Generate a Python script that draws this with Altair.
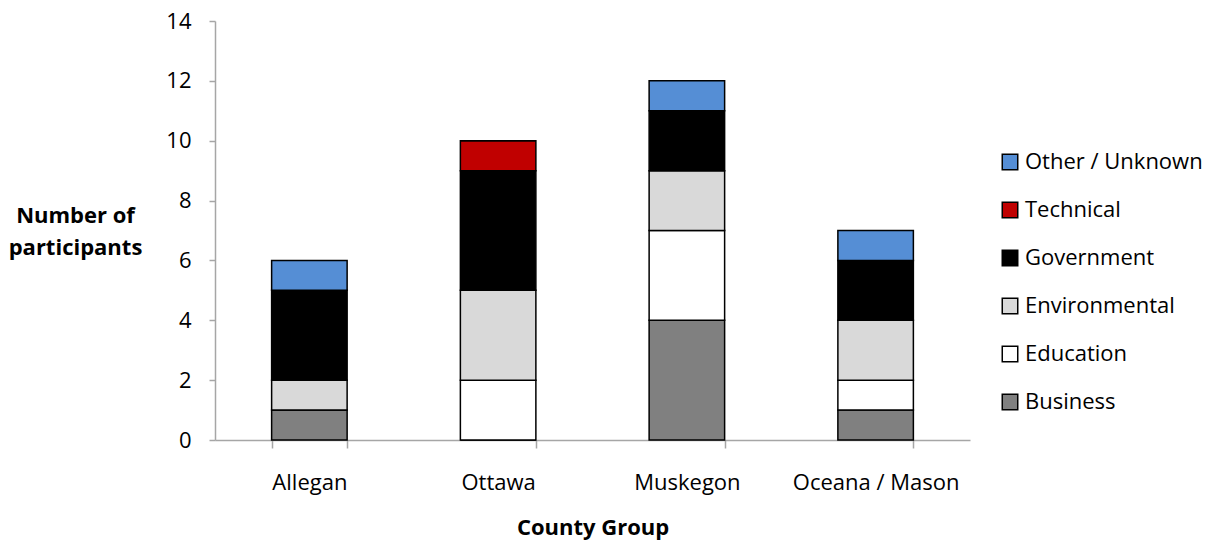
import altair as alt
import pandas as pd

counties = ["Allegan", "Ottawa", "Muskegon", "Oceana / Mason"]
categories = ["Business", "Education", "Environmental", "Government", "Technical", "Other / Unknown"]
business = [1, 0, 4, 1]
education = [0, 2, 3, 1]
environmental = [1, 3, 2, 2]
government = [3, 4, 2, 2]
technical = [0, 1, 0, 0]
other = [1, 0, 1, 1]
colors = ["#808080", "#FFFFFF", "#D9D9D9", "#000000", "#C00000", "#558ED5"]

series = [business, education, environmental, government, technical, other]
rows = []
for ci, c in enumerate(counties):
    for si, cat in enumerate(categories):
        rows.append({"County": c, "Type": cat, "Count": series[si][ci], "order": si})
df = pd.DataFrame(rows)

FONT = "Open Sans"
FS = 22

chart = alt.Chart(df).mark_bar(stroke="black", strokeWidth=1.5).encode(
    x=alt.X("County:N", sort=counties,
            scale=alt.Scale(paddingInner=0.6, paddingOuter=0.3),
            axis=alt.Axis(title="County Group", labelAngle=0, tickBand="extent",
                          labelFontSize=FS, titleFontSize=FS, titleFontWeight="bold",
                          labelPadding=24, titlePadding=24, tickSize=8,
                          domainColor="#A6A6A6", tickColor="#A6A6A6", domainWidth=1.5,
                          tickWidth=1.5, labelColor="black", titleColor="black")),
    y=alt.Y("Count:Q", stack="zero", scale=alt.Scale(domain=[0, 14]),
            axis=alt.Axis(values=list(range(0, 15, 2)), grid=False,
                          title=["Number of", "participants"], titleAngle=0,
                          titleAlign="center", titleBaseline="middle",
                          titleX=-140, titleY=194, titleLineHeight=32,
                          labelFontSize=FS, titleFontSize=FS, titleFontWeight="bold",
                          tickSize=6, labelPadding=18,
                          domainColor="#A6A6A6", tickColor="#A6A6A6", domainWidth=1.5,
                          tickWidth=1.5, labelColor="black", titleColor="black")),
    color=alt.Color("Type:N", sort=categories[::-1],
                    scale=alt.Scale(domain=categories[::-1], range=colors[::-1]),
                    legend=alt.Legend(title=None, orient="none", legendX=784, legendY=130,
                                      symbolType="square", symbolSize=240,
                                      symbolStrokeColor="black", symbolStrokeWidth=1.5,
                                      labelFontSize=FS, rowPadding=26, labelOffset=4,
                                      labelLimit=400, labelColor="black")),
    order=alt.Order("order:Q", sort="ascending"),
).properties(
    width=755, height=419,
    autosize=alt.AutoSizeParams(type="none"),
    padding={"left": 207, "top": 13, "right": 240, "bottom": 100},
).configure(font=FONT).configure_view(stroke=None)

chart.save("out.html", embed_options={"renderer": "svg", "actions": False})
